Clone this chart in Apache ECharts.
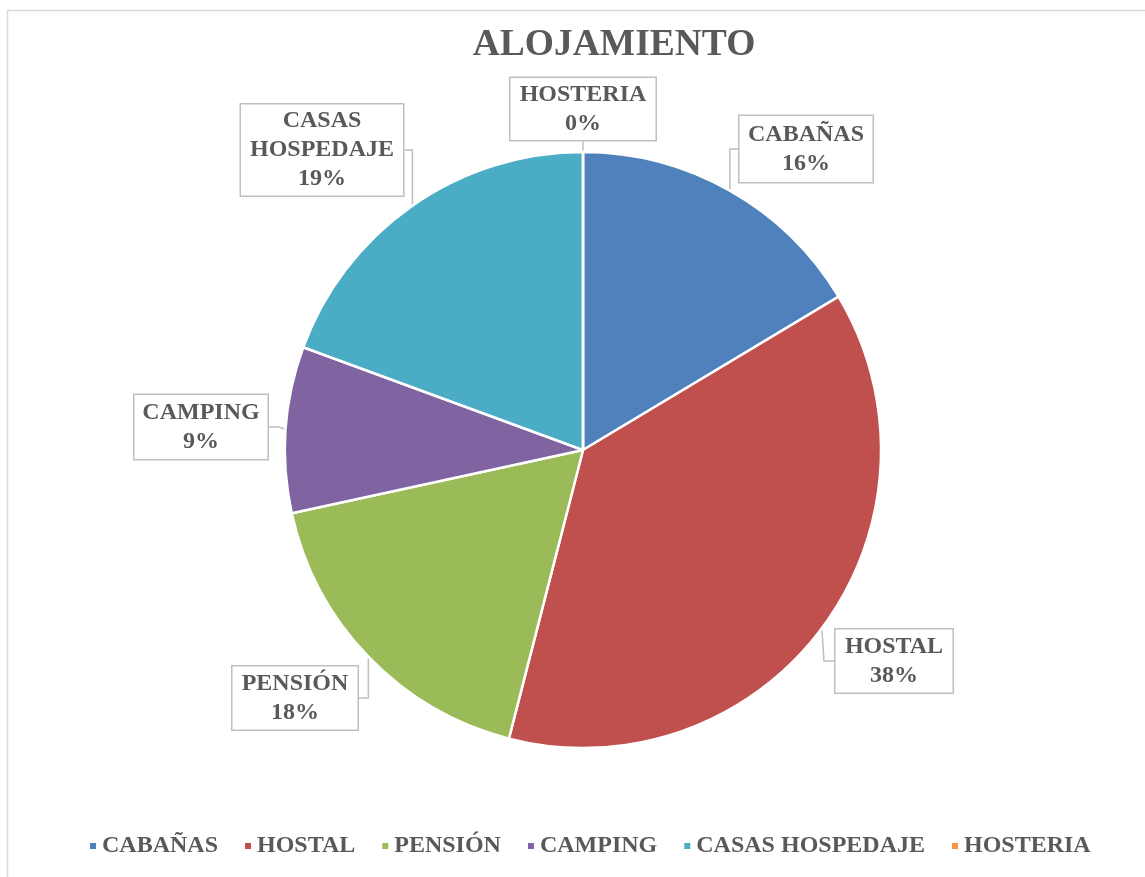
<!DOCTYPE html>
<html>
<head>
<meta charset="utf-8">
<script src="https://cdn.jsdelivr.net/npm/echarts@6/dist/echarts.min.js"></script>
<style>
html, body { margin: 0; padding: 0; background: #fff; }
#main { width: 1145px; height: 877px; }
</style>
</head>
<body>
<div id="main"></div>
<script>
// datos del gráfico
var categorias = ['CABAÑAS', 'HOSTAL', 'PENSIÓN', 'CAMPING', 'CASAS HOSPEDAJE', 'HOSTERIA'];
var valores = [16.4, 37.6, 17.6, 9.0, 19.4, 0];
var colores = ['#4F81BD', '#C0504D', '#9BBB59', '#8064A2', '#4BACC6', '#F79646'];
var nombresEtiqueta = ['CABAÑAS', 'HOSTAL', 'PENSIÓN', 'CAMPING', 'CASAS\nHOSPEDAJE', 'HOSTERIA'];

// posiciones de las cajas de etiqueta (centro)
var cajas = [
  { x: 806, y: 149, w: 133, h: 66 },
  { x: 894, y: 661, w: 117, h: 63 },
  { x: 295, y: 698, w: 125, h: 63 },
  { x: 201, y: 427, w: 133, h: 64 },
  { x: 322, y: 150, w: 162, h: 91 },
  { x: 583, y: 109, w: 145, h: 62 }
];

var fuente = '"Liberation Serif", "Times New Roman", serif';
var gris = '#595959';

var datos = [];
for (var i = 0; i < categorias.length; i++) {
  datos.push({
    name: categorias[i],
    value: valores[i],
    itemStyle: { color: colores[i] },
    label: { width: cajas[i].w - 4, height: cajas[i].h - 4 }
  });
}

var myChart = echarts.init(document.getElementById('main'));
myChart.setOption({
  animation: false,
  title: {
    text: 'ALOJAMIENTO',
    left: 609,
    top: 21,
    textAlign: 'center',
    textStyle: { fontFamily: fuente, fontSize: 37.5, fontWeight: 'bold', color: gris }
  },
  graphic: [{
    type: 'rect',
    shape: { x: 7.5, y: 10.5, width: 1200, height: 900 },
    style: { fill: 'none', stroke: '#d9d9d9', lineWidth: 1.5 },
    silent: true
  }],
  legend: {
    bottom: 14,
    left: 83,
    itemWidth: 8,
    itemHeight: 8,
    itemGap: 25,
    icon: 'rect',
    data: categorias,
    textStyle: { fontFamily: fuente, fontSize: 24, fontWeight: 'bold', color: gris }
  },
  series: [{
    type: 'pie',
    center: [583, 450],
    radius: 298,
    startAngle: 90,
    clockwise: true,
    avoidLabelOverlap: false,
    itemStyle: { borderColor: '#fff', borderWidth: 2.5 },
    label: {
      show: true,
      formatter: function (p) {
        return nombresEtiqueta[p.dataIndex] + '\n' + Math.round(p.percent) + '%';
      },
      fontFamily: fuente,
      fontSize: 24,
      fontWeight: 'bold',
      lineHeight: 29,
      color: gris,
      align: 'center',
      verticalAlign: 'middle',
      backgroundColor: '#fff',
      borderColor: '#bfbfbf',
      borderWidth: 1.5,
      padding: 2
    },
    labelLine: {
      show: true,
      length: 10,
      length2: 10,
      lineStyle: { color: '#bfbfbf', width: 1.5 }
    },
    labelLayout: function (params) {
      var c = cajas[params.dataIndex];
      return { x: c.x, y: c.y, align: 'center', verticalAlign: 'middle' };
    },
    data: datos
  }]
});
</script>
</body>
</html>
